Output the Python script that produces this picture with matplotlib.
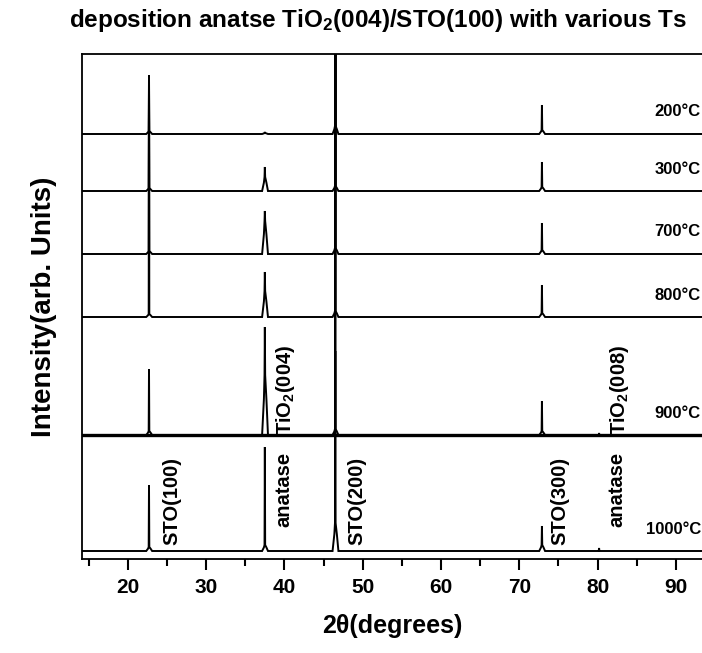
import numpy as np
import matplotlib
matplotlib.use("Agg")
import matplotlib.pyplot as plt
from matplotlib.ticker import MultipleLocator
from matplotlib import font_manager

# Peak positions (2theta, deg) shared by all the scans
peak_pos = [22.7, 37.5, 46.5, 72.9, 80.2]

# Substrate temperatures, bottom to top
temps = ["1000", "900", "800", "700", "300", "200"]

# Vertical offset of each scan (arb. units)
offsets = [8, 124, 242, 305, 368, 425]

# Peak heights and shoulder heights per scan, same order as peak_pos
heights = {
    "1000": [66, 104, 200, 25, 3],
    "900": [66, 108, 400, 34, 2],
    "800": [220, 45, 300, 32, 0],
    "700": [160, 43, 300, 31, 0],
    "300": [110, 24, 200, 29, 0],
    "200": [59, 2, 200, 29, 0],
}
shoulders = {
    "1000": [4, 6, 28, 6, 0],
    "900": [4, 60, 6, 4, 0],
    "800": [3, 26, 6, 4, 0],
    "700": [3, 33, 6, 4, 0],
    "300": [3, 14, 5, 4, 0],
    "200": [3, 1, 8, 4, 0],
}

avail = {f.name for f in font_manager.fontManager.ttflist}
fam = "Liberation Sans Narrow" if "Liberation Sans Narrow" in avail else "Liberation Sans"
plt.rcParams["font.family"] = [fam, "DejaVu Sans"]
plt.rcParams["font.weight"] = "bold"
plt.rcParams["axes.labelweight"] = "bold"
plt.rcParams["mathtext.fontset"] = "custom"
plt.rcParams["mathtext.rm"] = fam + ":bold"
plt.rcParams["mathtext.bf"] = fam + ":bold"
plt.rcParams["mathtext.default"] = "bf"

x_lo, x_hi = 14.14, 93.35


def trace(h, s):
    xs, ys = [x_lo], [0.0]
    for p, hh, ss in zip(peak_pos, h, s):
        if hh <= 0:
            continue
        xs += [p - 0.35, p - 0.12, p - 0.04, p, p + 0.04, p + 0.2, p + 0.4]
        ys += [0, ss * 0.6, ss, hh, ss, ss * 0.6, 0]
    xs.append(x_hi)
    ys.append(0.0)
    return np.array(xs), np.array(ys)


fig = plt.figure(figsize=(7.02, 6.53), dpi=100)
ax = fig.add_axes([82 / 702, 1 - 559 / 653, 1 - 82 / 702, (559 - 54) / 653])

for t, off in zip(temps, offsets):
    xs, ys = trace(heights[t], shoulders[t])
    ax.plot(xs, ys + off, color="black", lw=1.4, solid_joinstyle="miter")
    if t == "900":
        # thicker baseline on the 900 C scan
        ax.axhline(off, color="black", lw=2.4)
    ax.text(93.2, off + 22, t + "°C", ha="right", va="center", fontsize=12)

ax.set_xlim(x_lo, x_hi)
ax.set_ylim(0, 505)
ax.spines["right"].set_visible(False)
for sp in ["left", "top", "bottom"]:
    ax.spines[sp].set_linewidth(1.3)
ax.set_yticks([])
ax.xaxis.set_major_locator(MultipleLocator(10))
ax.xaxis.set_minor_locator(MultipleLocator(5))
ax.tick_params(axis="x", which="major", length=8, width=1.5, labelsize=15, pad=6)
ax.tick_params(axis="x", which="minor", length=5, width=1.5)

ax.set_xlabel("2θ(degrees)", fontsize=18, labelpad=12)
ax.set_ylabel("Intensity(arb. Units)", fontsize=20, labelpad=18)
fig.text(0.538, 0.968, "deposition anatse TiO$_2$(004)/STO(100) with various Ts",
         ha="center", va="center", fontsize=17.5)

# Peak assignments
lbl = dict(rotation=90, ha="center", va="bottom", fontsize=14.5)
ax.text(25.6, 14, "STO(100)", **lbl)
ax.text(39.9, 32, "anatase", **lbl)
ax.text(40.2, 124, "TiO$_2$(004)", **lbl)
ax.text(49.2, 14, "STO(200)", **lbl)
ax.text(75.2, 14, "STO(300)", **lbl)
ax.text(82.5, 32, "anatase", **lbl)
ax.text(82.8, 124, "TiO$_2$(008)", **lbl)

fig.savefig("out.png", dpi=100)
